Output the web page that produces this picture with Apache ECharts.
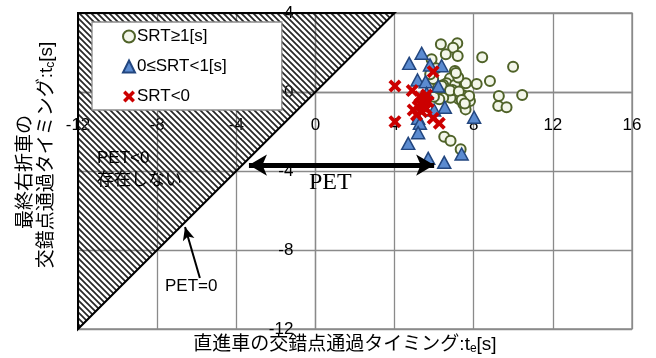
<!DOCTYPE html>
<html>
<head>
<meta charset="utf-8">
<script src="https://cdn.jsdelivr.net/npm/echarts@6/dist/echarts.min.js"></script>
<style>
  html, body { margin: 0; padding: 0; background: #fff; }
  #chart { width: 656px; height: 358px; }
</style>
</head>
<body>
<div id="chart"></div>
<script>
// Passage timing at the conflict point: through vehicle t_e vs. last right-turner t_c [s]
const xTicks = { min: -12, max: 16, interval: 4 };
const yTicks = { min: -12, max: 4, interval: 4 };

const seriesNames = ['SRT≥1[s]', '0≤SRT<1[s]', 'SRT<0'];

// SRT >= 1 s
const srtLong = [
  [6.34, 2.42], [7.17, 2.47], [6.96, 2.24], [6.59, 1.91], [7.19, 1.82], [5.87, 1.66],
  [8.43, 1.76], [9.99, 1.28], [7.05, 1.06], [5.95, 0.66], [6.80, 0.69], [6.63, 0.44],
  [7.05, 0.35], [7.60, 0.44], [8.15, 0.41], [8.82, 0.56], [10.45, -0.15], [9.27, -0.20],
  [9.24, -0.71], [9.66, -0.77], [7.81, -0.46], [7.52, -0.19], [7.25, -0.35], [7.47, -0.61],
  [7.59, -0.88], [6.83, -0.29], [6.46, -0.29], [6.26, -0.37], [6.51, -2.26], [6.83, -2.47],
  [7.34, -2.90], [5.99, -0.24], [6.93, 0.10], [6.46, 0.35], [6.19, 0.20], [7.22, 0.74],
  [7.10, 0.96], [6.38, 0.30], [6.80, 0.07], [7.25, 0.02], [7.77, -0.20], [7.39, -0.40],
  [7.55, -0.58], [5.80, 0.90], [6.10, 1.20]
];

// 0 <= SRT < 1 s
const srtShort = [
  [5.37, 1.96], [4.74, 1.45], [5.79, 1.37], [6.38, 1.33], [5.16, 0.61], [5.57, 0.52],
  [6.21, 0.30], [6.54, -0.77], [6.00, -0.91], [5.19, -1.33], [5.28, -1.58], [5.19, -2.06],
  [4.69, -2.60], [8.02, -1.28], [7.39, -3.14], [5.70, -3.36], [6.51, -3.56], [5.62, -0.07],
  [5.40, -0.60]
];

// SRT < 0
const srtNegative = [
  [5.95, 1.03], [4.02, 0.30], [4.89, 0.07], [4.02, -1.50], [5.95, -1.33], [6.26, -1.58],
  [5.28, -0.24], [5.53, -0.32], [5.70, -0.49], [4.94, -0.91], [5.19, -0.74], [5.45, -0.74],
  [5.37, -1.00], [5.11, -1.16], [5.62, -0.15], [5.45, -0.49], [5.30, -0.60], [5.60, -0.85]
];

// PET < 0 region (t_c > t_e) bounded by the PET = 0 line
const petNegativeRegion = [[-12, -12], [-12, 4], [4, 4]];
// PET span arrow and the pointer to the PET = 0 line
const petSpan = [[-3.36, -3.7], [6.0, -3.7]];
const petZeroPointer = [[-5.84, -9.42], [-6.59, -6.84]];

const FONT = '"Liberation Sans", Arial, "Noto Sans CJK JP", sans-serif';
const GRID_COLOR = '#8a8a8a';

const GRID = { left: 78, right: 24, top: 13, bottom: 29 };
const plotW = 656 - GRID.left - GRID.right;
const plotH = 358 - GRID.top - GRID.bottom;
// Axes cross at the origin: shift each axis from its edge to the zero line
const xAxisShift = -plotH * (0 - yTicks.min) / (yTicks.max - yTicks.min);
const yAxisShift = -plotW * (0 - xTicks.min) / (xTicks.max - xTicks.min);

function makeHatch() {
  const s = 6;
  const c = document.createElement('canvas');
  c.width = s; c.height = s;
  const g = c.getContext('2d');
  g.strokeStyle = '#262626';
  g.lineWidth = 1.7;
  g.beginPath();
  for (let k = -1; k <= 1; k++) {
    g.moveTo(k * s - 1, -1);
    g.lineTo(k * s + s + 1, s + 1);
  }
  g.stroke();
  return c;
}
const hatch = makeHatch();

const xMark = 'path://M0,2.5 L2.5,0 L6,3.5 L9.5,0 L12,2.5 L8.5,6 L12,9.5 L9.5,12 L6,8.5 L2.5,12 L0,9.5 L3.5,6 Z';

const chart = echarts.init(document.getElementById('chart'), null, { renderer: 'canvas' });

chart.setOption({
  animation: false,
  backgroundColor: '#fff',
  grid: Object.assign({ show: true, borderColor: GRID_COLOR, borderWidth: 1.3 }, GRID),
  xAxis: {
    type: 'value', min: xTicks.min, max: xTicks.max, interval: xTicks.interval,
    position: 'bottom', offset: xAxisShift,
    axisLine: { onZero: false, lineStyle: { color: GRID_COLOR, width: 1.3 } },
    axisTick: { show: false },
    axisLabel: { margin: 25, fontSize: 17, color: '#000', fontFamily: FONT },
    splitLine: { lineStyle: { color: GRID_COLOR, width: 1.3 } }
  },
  yAxis: {
    type: 'value', min: yTicks.min, max: yTicks.max, interval: yTicks.interval,
    position: 'left', offset: yAxisShift,
    axisLine: { onZero: false, lineStyle: { color: GRID_COLOR, width: 1.3 } },
    axisTick: { show: false },
    axisLabel: { margin: 22, fontSize: 17, color: '#000', fontFamily: FONT },
    splitLine: { lineStyle: { color: GRID_COLOR, width: 1.3 } }
  },
  legend: {
    orient: 'vertical', left: 92, top: 22,
    padding: [6, 55, 5, 30], itemGap: 13, itemWidth: 12, itemHeight: 12,
    backgroundColor: '#fff', borderColor: GRID_COLOR, borderWidth: 1.3, borderRadius: 0,
    textStyle: { fontSize: 17, color: '#000', fontFamily: FONT, padding: [0, 0, 0, -3] },
    data: seriesNames
  },
  series: [
    {
      type: 'custom', silent: true, z: 1,
      data: [[0, 0]],
      renderItem: function (params, api) {
        const pts = petNegativeRegion.map(p => api.coord(p));
        return {
          type: 'polygon',
          shape: { points: pts },
          style: { fill: { image: hatch, repeat: 'repeat' }, stroke: '#000', lineWidth: 2 }
        };
      },
      markLine: {
        silent: true, animation: false,
        label: { show: false },
        data: [
          [
            { coord: petSpan[0], symbol: 'arrow', symbolSize: [16, 18],
              lineStyle: { color: '#000', width: 5, type: 'solid' } },
            { coord: petSpan[1], symbol: 'arrow', symbolSize: [16, 18] }
          ],
          [
            { coord: petZeroPointer[0], symbol: 'none',
              lineStyle: { color: '#000', width: 2, type: 'solid' } },
            { coord: petZeroPointer[1], symbol: 'arrow', symbolSize: [9, 13] }
          ]
        ]
      }
    },
    {
      name: seriesNames[0], type: 'scatter', z: 3,
      symbol: 'circle', symbolSize: 10,
      itemStyle: { color: '#f3f6ea', borderColor: '#4f6228', borderWidth: 2, opacity: 1 },
      data: srtLong
    },
    {
      name: seriesNames[1], type: 'scatter', z: 4,
      symbol: 'triangle', symbolSize: [13, 12],
      itemStyle: { color: '#5b8bd0', borderColor: '#22467f', borderWidth: 1.5, opacity: 1 },
      data: srtShort
    },
    {
      name: seriesNames[2], type: 'scatter', z: 5,
      symbol: xMark, symbolSize: 13,
      itemStyle: { color: '#cc0000', opacity: 1 },
      data: srtNegative
    }
  ],
  graphic: [
    {
      type: 'text', left: 97, top: 150, z: 10, silent: true,
      style: { text: 'PET<0', font: '17px ' + FONT, fill: '#000' }
    },
    {
      type: 'text', left: 97, top: 172, z: 10, silent: true,
      style: { text: '存在しない', font: '17px ' + FONT, fill: '#000' }
    },
    {
      type: 'text', left: 309, top: 171, z: 10, silent: true,
      style: { text: 'PET', font: '24px "Liberation Serif", "Times New Roman", serif', fill: '#000' }
    },
    {
      type: 'text', left: 165, top: 278, z: 10, silent: true,
      style: { text: 'PET=0', font: '17px ' + FONT, fill: '#000' }
    },
    {
      type: 'text', x: 345, y: 345, z: 10, silent: true,
      style: {
        text: '直進車の交錯点通過タイミング:t{s|e}[s]',
        font: '19px ' + FONT, fill: '#000', align: 'center', verticalAlign: 'middle',
        rich: { s: { fontSize: 12, fontFamily: FONT, verticalAlign: 'bottom', lineHeight: 19, padding: [6, 0, 0, 0] } }
      }
    },
    {
      type: 'text', x: 26, y: 172, rotation: Math.PI / 2, z: 10, silent: true,
      style: {
        text: '最終右折車の',
        font: '19px ' + FONT, fill: '#000', align: 'center', verticalAlign: 'middle'
      }
    },
    {
      type: 'text', x: 47, y: 155, rotation: Math.PI / 2, z: 10, silent: true,
      style: {
        text: '交錯点通過タイミング:t{s|c}[s]',
        font: '19px ' + FONT, fill: '#000', align: 'center', verticalAlign: 'middle',
        rich: { s: { fontSize: 12, fontFamily: FONT, verticalAlign: 'bottom', lineHeight: 19, padding: [6, 0, 0, 0] } }
      }
    }
  ]
});
</script>
</body>
</html>
